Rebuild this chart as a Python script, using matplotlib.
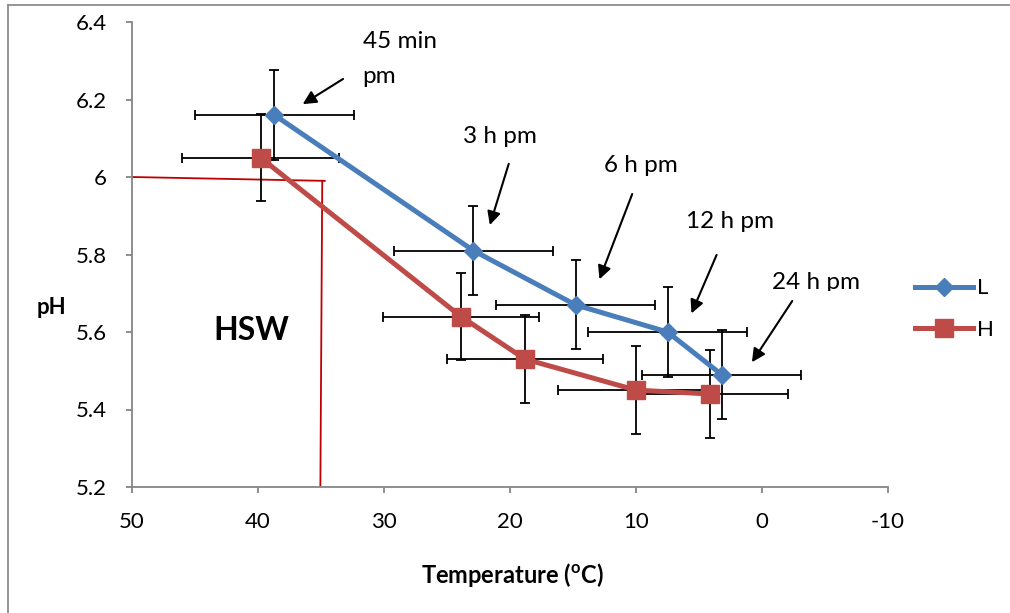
import numpy as np
import matplotlib
matplotlib.use('Agg')
import matplotlib.pyplot as plt
from matplotlib.lines import Line2D
from matplotlib.ticker import FuncFormatter
from matplotlib.transforms import Bbox, TransformedBbox

plt.rcParams['font.family'] = ['Lato', 'DejaVu Sans']
plt.rcParams['mathtext.fontset'] = 'custom'
plt.rcParams['mathtext.bf'] = 'Lato:bold'
plt.rcParams['mathtext.rm'] = 'Lato'

# data
temp_L = [38.7, 22.9, 14.8, 7.5, 3.2]
ph_L = [6.16, 5.81, 5.67, 5.60, 5.49]
temp_H = [39.8, 23.9, 18.8, 10.0, 4.1]
ph_H = [6.05, 5.64, 5.53, 5.45, 5.44]
xerr_L = [6.3, 6.3, 6.3, 6.3, 6.3]
yerr_L = [0.115, 0.115, 0.115, 0.115, 0.115]
xerr_H = [6.2, 6.2, 6.2, 6.2, 6.2]
yerr_H = [0.113, 0.113, 0.113, 0.113, 0.113]

# HSW boundary lines (red)
hsw_h_x = [50, 34.7]
hsw_h_y = [6.0, 5.99]
hsw_v_x = [34.9, 35.05]
hsw_v_y = [5.99, 5.2]

# annotations: label, text pos, arrow tail, arrow tip
notes = ['45 min', '3 h pm', '6 h pm', '12 h pm', '24 h pm']
note_xy = [(31.7, 6.333), (23.7, 6.089), (12.5, 6.014), (6.0, 5.868), (-0.8, 5.710)]
arrow_tail = [(33.25, 6.253), (20.1, 6.034), (10.3, 5.956), (3.6, 5.799), (-2.4, 5.68)]
arrow_tip = [(36.45, 6.188), (21.6, 5.876), (12.9, 5.736), (5.6, 5.648), (0.8, 5.522)]

xticks = [50, 40, 30, 20, 10, 0, -10]
yticks = [5.2, 5.4, 5.6, 5.8, 6.0, 6.2, 6.4]

blue = '#4A7EBB'
red = '#BE4B48'
gray = '#868686'

fig = plt.figure(figsize=(10.10, 6.13), dpi=100)
ax = fig.add_axes([132/1010, 1-487/613, 756/1010, 465/613])

ax.errorbar(temp_L, ph_L, xerr=xerr_L, yerr=yerr_L, fmt='none', ecolor='black',
            elinewidth=1.3, capsize=3.6, capthick=1.3, zorder=2)
ax.errorbar(temp_H, ph_H, xerr=xerr_H, yerr=yerr_H, fmt='none', ecolor='black',
            elinewidth=1.3, capsize=3.6, capthick=1.3, zorder=2)
ax.plot(temp_L, ph_L, color=blue, lw=3.6, marker='D', ms=9, label='L', zorder=3)
ax.plot(temp_H, ph_H, color=red, lw=3.6, marker='s', ms=13, label='H', zorder=3)

ax.plot(hsw_h_x, hsw_h_y, color='#C00000', lw=1.3, zorder=1)
ax.plot(hsw_v_x, hsw_v_y, color='#C00000', lw=1.3, zorder=1)

ax.text(40.5, 5.603, 'HSW', fontsize=23, fontweight='bold', ha='center', va='center')

for i in range(len(notes)):
    t = ax.text(note_xy[i][0], note_xy[i][1], notes[i], fontsize=17.5, ha='left', va='baseline')
    if notes[i] == '24 h pm':
        # the label is cut off at the bottom in the original
        t.set_clip_box(TransformedBbox(Bbox([[-10, 5.707], [10, 6.0]]), ax.transData))
        t.set_clip_on(True)
    ax.annotate('', xy=arrow_tip[i], xytext=arrow_tail[i],
                arrowprops=dict(arrowstyle='-|>', color='black', lw=1.5, mutation_scale=20,
                                shrinkA=0, shrinkB=0))
ax.text(note_xy[0][0], 6.243, 'pm', fontsize=17.5, ha='left', va='baseline')

ax.set_xlim(50, -10)
ax.set_ylim(5.2, 6.4)
ax.set_xticks(xticks)
ax.set_yticks(yticks)
ax.yaxis.set_major_formatter(FuncFormatter(lambda v, p: '%g' % round(v, 1)))
ax.xaxis.set_major_formatter(FuncFormatter(lambda v, p: '%g' % v))
for s in ['top', 'right']:
    ax.spines[s].set_visible(False)
for s in ['left', 'bottom']:
    ax.spines[s].set_color(gray)
    ax.spines[s].set_linewidth(1.3)
ax.tick_params(direction='out', length=4, width=1.3, color=gray, labelsize=16, pad=14)

ax.set_ylabel('pH', fontsize=16, fontweight='bold', rotation=0, ha='center', va='center')
ax.yaxis.set_label_coords(-0.107, 0.385)
ax.set_xlabel(r'Temperature ($\mathbf{^o}$C)', fontsize=17, fontweight='bold')
ax.xaxis.set_label_coords(0.503, -0.159)

fig.legend(loc='center left', bbox_to_anchor=(915/1010, 1-309/613), frameon=False,
           fontsize=16, handlelength=2.6, handletextpad=0.2, labelspacing=0.95,
           borderpad=0, borderaxespad=0, numpoints=1)

# outer chart frame (left and top edges visible)
fig.add_artist(Line2D([8/1010, 8/1010], [0, 1-5/613], color='#8C8C8C', lw=1.3))
fig.add_artist(Line2D([8/1010, 1], [1-5/613, 1-5/613], color='#8C8C8C', lw=1.3))

fig.savefig('out.png', dpi=100)
